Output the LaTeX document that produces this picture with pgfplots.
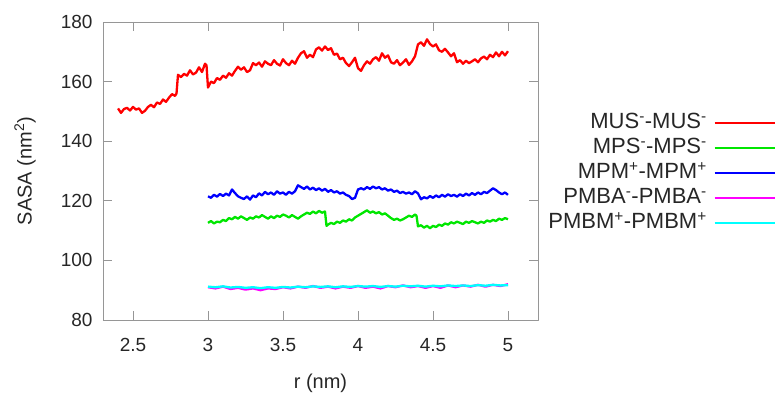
\documentclass[border=0pt]{standalone}
\usepackage{pgfplots}
\pgfplotsset{compat=1.18}
\usepackage{fontspec}
\setmainfont{Liberation Sans}
\definecolor{gnred}{RGB}{255,0,0}
\definecolor{gngreen}{RGB}{0,230,0}
\definecolor{gnblue}{RGB}{0,0,255}
\definecolor{gnmag}{RGB}{255,0,255}
\definecolor{gncyan}{RGB}{0,255,255}
\definecolor{axgray}{RGB}{150,150,150}
\begin{document}
\begin{tikzpicture}
\path[use as bounding box] (-103pt,-74pt) rectangle (675pt,320pt);
\begin{axis}[
  scale only axis, width=435pt, height=298pt,
  xmin=2.3, xmax=5.2, ymin=80, ymax=180,
  xtick={2.5,3,3.5,4,4.5,5}, ytick={80,100,...,180},
  xticklabels={2.5,3,3.5,4,4.5,5},
  tick align=inside, major tick length=9pt,
  axis line style={axgray, line width=0.8pt},
  every tick/.style={axgray, line width=0.8pt},
  /pgf/number format/assume math mode=true,
  tick label style={font=\fontsize{19}{21}\selectfont, text=black!85},
  xticklabel style={yshift=-15pt},
  yticklabel style={xshift=-7pt},
  label style={font=\fontsize{20}{22}\selectfont, text=black!85},
  xlabel={r (nm)}, ylabel={SASA (nm\textsuperscript{2})},
  xlabel style={at={(axis description cs:0.5,-0.213)}, anchor=center},
  ylabel style={at={(axis description cs:-0.179,0.5)}, anchor=center},
  legend plot pos=right, legend cell align=right,
  legend image code/.code={\draw[#1, line width=1.6pt] (0pt,0pt) -- (60pt,0pt);},
  legend style={at={(axis description cs:1.553,0.703)}, anchor=north east,
    draw=none, fill=none, font=\fontsize{22}{24}\selectfont, text=black!85,
    nodes={inner sep=1pt, text height=15pt, text depth=4pt}, row sep=4pt,
    /tikz/column sep=6pt},
  line join=round,
]
\addplot[gnred, line width=2.3pt] coordinates {
(2.40,151.0)(2.42,149.5)(2.44,150.8)(2.46,151.2)(2.48,150.3)(2.50,151.5)(2.52,150.6)(2.54,151.0)(2.56,149.5)(2.58,150.2)
(2.60,151.5)(2.62,152.2)(2.64,151.4)(2.66,153.0)(2.68,152.5)(2.70,154.0)(2.72,153.2)(2.74,154.6)(2.76,155.8)(2.78,155.2)
(2.79,156.0)(2.80,162.3)(2.82,161.5)(2.84,162.6)(2.86,162.0)(2.88,163.8)(2.90,162.4)(2.92,163.0)(2.94,164.8)(2.96,163.2)
(2.98,166.0)(2.99,165.5)(3.00,158.0)(3.02,160.0)(3.04,159.5)(3.06,161.2)(3.08,160.6)(3.10,162.0)(3.12,161.3)(3.14,162.8)
(3.16,162.0)(3.18,163.6)(3.20,165.0)(3.22,164.0)(3.24,164.8)(3.26,163.2)(3.28,163.8)(3.30,166.2)(3.32,165.5)(3.34,166.4)
(3.36,165.0)(3.38,166.8)(3.40,166.0)(3.42,165.5)(3.44,167.2)(3.46,166.0)(3.48,165.4)(3.50,167.5)(3.52,166.2)(3.54,165.5)
(3.56,167.0)(3.58,166.0)(3.60,168.0)(3.62,169.5)(3.64,170.2)(3.66,168.0)(3.68,169.0)(3.70,168.2)(3.72,170.8)(3.74,171.5)
(3.76,170.4)(3.78,171.8)(3.80,170.6)(3.82,171.2)(3.84,169.0)(3.86,169.4)(3.88,167.5)(3.90,168.0)(3.92,166.2)(3.94,165.2)
(3.96,166.5)(3.98,168.0)(4.00,164.5)(4.02,163.6)(4.04,165.5)(4.06,166.8)(4.08,166.0)(4.10,167.5)(4.12,168.2)(4.14,167.0)
(4.16,169.5)(4.18,168.0)(4.20,168.8)(4.22,166.5)(4.24,166.0)(4.26,167.2)(4.28,165.5)(4.30,166.4)(4.32,167.5)(4.34,165.6)
(4.36,166.8)(4.38,168.5)(4.40,172.5)(4.42,173.2)(4.44,172.0)(4.46,174.2)(4.48,172.6)(4.50,171.8)(4.52,172.5)(4.54,170.5)
(4.56,170.0)(4.58,171.0)(4.60,169.8)(4.62,168.5)(4.64,169.5)(4.66,166.5)(4.68,167.2)(4.70,166.0)(4.72,167.0)(4.74,166.2)
(4.76,166.8)(4.78,167.5)(4.80,166.5)(4.82,167.8)(4.84,168.4)(4.86,167.5)(4.88,169.0)(4.90,168.2)(4.92,169.8)(4.94,168.5)
(4.96,170.0)(4.98,168.8)(5.00,170.2)};
\addlegendentry{MUS\textsuperscript{-}-MUS\textsuperscript{-}}
\addplot[gngreen, line width=2.3pt] coordinates {
(3.00,112.6)(3.02,113.2)(3.04,112.4)(3.06,113.0)(3.08,112.8)(3.10,113.6)(3.12,113.2)(3.14,114.2)(3.16,113.8)(3.18,114.6)
(3.20,114.0)(3.22,114.8)(3.24,114.2)(3.26,113.6)(3.28,114.4)(3.30,114.0)(3.32,114.8)(3.34,114.4)(3.36,115.2)(3.38,114.6)
(3.40,114.0)(3.42,114.8)(3.44,114.2)(3.46,115.0)(3.48,114.6)(3.50,115.4)(3.52,115.0)(3.54,114.4)(3.56,115.2)(3.58,114.6)
(3.60,114.0)(3.62,114.8)(3.64,115.4)(3.66,116.0)(3.68,115.6)(3.70,116.4)(3.72,115.8)(3.74,116.6)(3.76,116.0)(3.78,116.4)
(3.79,111.6)(3.80,112.0)(3.82,112.6)(3.84,112.2)(3.86,113.0)(3.88,112.6)(3.90,113.4)(3.92,113.0)(3.94,113.8)(3.96,113.4)
(3.98,114.4)(4.00,115.0)(4.02,115.6)(4.04,116.2)(4.06,116.8)(4.08,116.0)(4.10,116.4)(4.12,115.8)(4.14,116.2)(4.16,115.4)
(4.18,115.8)(4.20,115.0)(4.22,114.2)(4.24,113.6)(4.26,114.0)(4.28,113.4)(4.30,113.8)(4.32,114.4)(4.34,115.0)(4.36,114.6)
(4.38,115.4)(4.39,115.0)(4.40,111.4)(4.42,111.8)(4.44,111.0)(4.46,111.6)(4.48,110.8)(4.50,111.6)(4.52,111.2)(4.54,112.0)
(4.56,111.6)(4.58,112.4)(4.60,112.0)(4.62,112.8)(4.64,112.4)(4.66,113.0)(4.68,112.6)(4.70,112.2)(4.72,113.0)(4.74,112.6)
(4.76,113.2)(4.78,112.8)(4.80,112.4)(4.82,113.0)(4.84,112.6)(4.86,113.4)(4.88,113.0)(4.90,113.6)(4.92,113.2)(4.94,114.0)
(4.96,113.6)(4.98,114.2)(5.00,113.8)};
\addlegendentry{MPS\textsuperscript{-}-MPS\textsuperscript{-}}
\addplot[gnblue, line width=2.3pt] coordinates {
(3.00,121.5)(3.02,121.0)(3.04,122.0)(3.06,121.4)(3.08,122.3)(3.10,121.6)(3.12,122.4)(3.14,121.8)(3.16,123.8)(3.18,122.6)
(3.20,121.5)(3.22,121.0)(3.24,120.6)(3.26,121.5)(3.28,120.4)(3.30,121.8)(3.32,121.2)(3.34,122.5)(3.36,121.8)(3.38,123.0)
(3.40,122.2)(3.42,122.8)(3.44,122.0)(3.46,123.2)(3.48,122.4)(3.50,122.8)(3.52,122.0)(3.54,123.0)(3.56,122.4)(3.58,123.2)
(3.60,125.2)(3.62,124.6)(3.64,124.0)(3.66,124.8)(3.68,123.8)(3.70,124.4)(3.72,123.6)(3.74,124.2)(3.76,123.4)(3.78,124.0)
(3.80,123.0)(3.82,123.6)(3.84,122.8)(3.86,123.2)(3.88,122.4)(3.90,122.8)(3.92,122.0)(3.94,121.6)(3.96,120.6)(3.98,121.0)
(4.00,123.8)(4.02,124.2)(4.04,123.8)(4.06,124.6)(4.08,124.0)(4.10,124.8)(4.12,124.2)(4.14,124.6)(4.16,123.8)(4.18,124.2)
(4.20,123.4)(4.22,123.8)(4.24,123.0)(4.26,123.4)(4.28,122.6)(4.30,123.0)(4.32,122.4)(4.34,122.8)(4.36,122.2)(4.38,123.2)
(4.40,122.5)(4.42,120.5)(4.44,121.2)(4.46,120.8)(4.48,121.6)(4.50,121.0)(4.52,121.8)(4.54,121.2)(4.56,122.0)(4.58,121.4)
(4.60,122.2)(4.62,121.6)(4.64,122.0)(4.66,121.4)(4.68,122.2)(4.70,121.6)(4.72,122.4)(4.74,121.8)(4.76,122.6)(4.78,122.0)
(4.80,122.8)(4.82,122.2)(4.84,123.0)(4.86,122.6)(4.88,123.4)(4.90,124.2)(4.92,123.6)(4.94,122.8)(4.96,122.2)(4.98,122.8)
(5.00,122.0)};
\addlegendentry{MPM\textsuperscript{+}-MPM\textsuperscript{+}}
\addplot[gnmag, line width=2.3pt] coordinates {
(3.00,91.0)(3.05,90.6)(3.10,91.2)(3.15,90.4)(3.20,90.8)(3.25,90.2)(3.30,90.6)(3.35,90.0)(3.40,90.6)(3.45,90.4)
(3.50,91.0)(3.55,90.6)(3.60,91.2)(3.65,90.8)(3.70,91.4)(3.75,90.8)(3.80,91.2)(3.85,90.6)(3.90,91.2)(3.95,90.8)
(4.00,91.4)(4.05,90.8)(4.10,91.2)(4.15,90.6)(4.20,91.4)(4.25,91.0)(4.30,91.6)(4.35,91.0)(4.40,91.4)(4.45,90.8)
(4.50,91.4)(4.55,90.8)(4.60,91.6)(4.65,91.0)(4.70,91.6)(4.75,91.2)(4.80,91.8)(4.85,91.2)(4.90,91.8)(4.95,91.4)(5.00,92.0)};
\addlegendentry{PMBA\textsuperscript{-}-PMBA\textsuperscript{-}}
\addplot[gncyan, line width=2.3pt] coordinates {
(3.00,91.2)(3.05,91.0)(3.10,91.3)(3.15,90.9)(3.20,91.1)(3.25,90.8)(3.30,91.0)(3.35,90.7)(3.40,91.0)(3.45,90.8)
(3.50,91.1)(3.55,90.9)(3.60,91.2)(3.65,91.0)(3.70,91.3)(3.75,91.1)(3.80,91.3)(3.85,91.0)(3.90,91.3)(3.95,91.1)
(4.00,91.4)(4.05,91.2)(4.10,91.4)(4.15,91.1)(4.20,91.4)(4.25,91.2)(4.30,91.5)(4.35,91.3)(4.40,91.5)(4.45,91.2)
(4.50,91.5)(4.55,91.3)(4.60,91.6)(4.65,91.4)(4.70,91.6)(4.75,91.4)(4.80,91.7)(4.85,91.5)(4.90,91.8)(4.95,91.6)(5.00,91.7)};
\addlegendentry{PMBM\textsuperscript{+}-PMBM\textsuperscript{+}}
\end{axis}
\end{tikzpicture}
\end{document}
